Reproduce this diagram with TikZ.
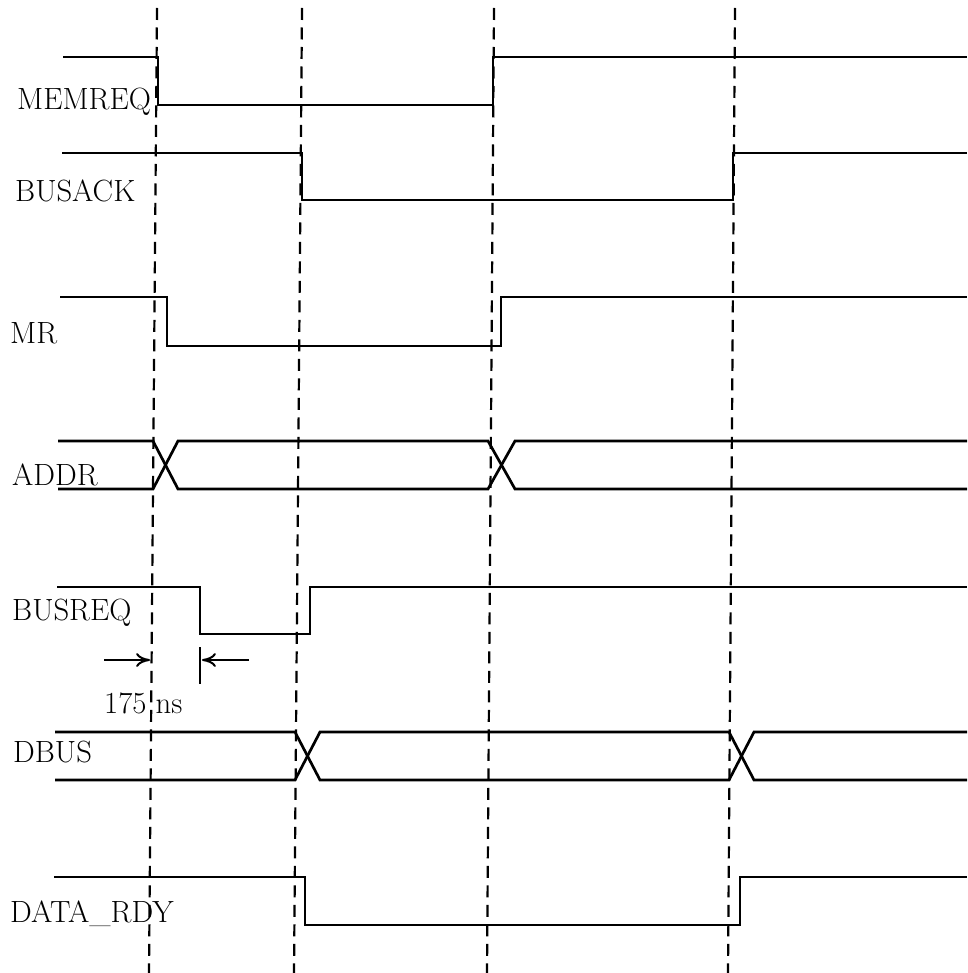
\documentclass[tikz,border=0pt]{standalone}
\usepackage{fontspec}
\usepackage{tikz}
\usetikzlibrary{arrows.meta}

\begin{document}
\begin{tikzpicture}[
  x=1pt,y=-1pt,
  sig/.style={line width=2.7pt,line join=miter},
  tline/.style={dashed,line width=2.2pt,dash pattern=on 12pt off 7.5pt},
  lbl/.style={anchor=base west,inner sep=0pt,font=\fontsize{30.7}{36}\selectfont},
  dim/.style={-{To[length=14pt,width=14pt]},line width=2pt}]
\useasboundingbox (0,0) rectangle (967,973);
% time markers
\foreach \xa/\xb in {157/149,302/294,494/487,735/728} {
  \draw[tline] (\xa,8) -- (\xb,973);
}
% signal names
\node[lbl] (memreq) at (17,110) {MEMREQ};
\node[lbl] (busack) at (15,202) {BUSACK};
\node[lbl] (mr) at (10,343) {MR};
\node[lbl] (addr) at (12,485) {ADDR};
\node[lbl] (busreq) at (12,620) {BUSREQ};
\node[lbl] (dbus) at (13,762) {DBUS};
\node[lbl] (datardy) at (10,922) {DATA\_RDY};
\node[lbl] (delay) at (104,713) {175 ns};
% waveforms
\draw[sig] (63,57) -- (158,57) -- (158,105) -- (493,105) -- (493,57) -- (967,57);
\draw[sig] (62,153) -- (302,153) -- (302,200) -- (733,200) -- (733,153) -- (967,153);
\draw[sig] (60,297) -- (167,297) -- (167,346) -- (501,346) -- (501,297) -- (967,297);
\draw[sig] (58,441) -- (153,441) -- (178,489) -- (488,489) -- (515,441) -- (967,441);
\draw[sig] (58,489) -- (153,489) -- (178,441) -- (488,441) -- (515,489) -- (967,489);
\draw[sig] (57,587) -- (200,587) -- (200,634) -- (310,634) -- (310,587) -- (967,587);
\draw[sig] (55,732) -- (295,732) -- (320,780) -- (729,780) -- (754,732) -- (967,732);
\draw[sig] (55,780) -- (295,780) -- (320,732) -- (729,732) -- (754,780) -- (967,780);
\draw[sig] (54,877) -- (305,877) -- (305,925) -- (740,925) -- (740,877) -- (967,877);
% 175 ns delay
\coordinate (dl) at (150,660);
\coordinate (dr) at (202,660);
\draw[line width=2pt] (200,647) -- (200,684);
\draw[dim] (104,660) -- (dl);
\draw[dim] (249,660) -- (dr);
\end{tikzpicture}
\end{document}
